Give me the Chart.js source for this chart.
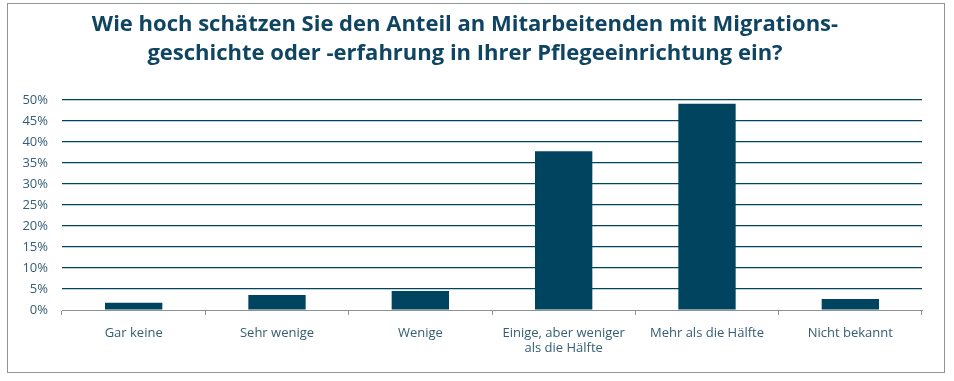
<!DOCTYPE html>
<html>
<head>
<meta charset="utf-8">
<script src="https://cdn.jsdelivr.net/npm/chart.js@4"></script>
<style>
  html, body { margin: 0; padding: 0; background: #fff; }
  #frame {
    position: absolute; left: 7px; top: 3px;
    width: 936px; height: 368px;
    border: 1px solid #8f959a;
  }
  canvas { display: block; }
</style>
</head>
<body>
<div id="frame"><canvas id="chart" width="936" height="368"></canvas></div>
<script>
const titleLines = [
    "Wie hoch schätzen Sie den Anteil an Mitarbeitenden mit Migrations-",
    "geschichte oder -erfahrung in Ihrer Pflegeeinrichtung ein?"
];
const categories = [
    "Gar keine",
    "Sehr wenige",
    "Wenige",
    ["Einige, aber weniger", "als die Hälfte"],
    "Mehr als die Hälfte",
    "Nicht bekannt"
];
const anteile = [1.7, 3.6, 4.5, 37.8, 49.1, 2.6];
const yTicks = [0, 5, 10, 15, 20, 25, 30, 35, 40, 45, 50];

const dunkel = "#01445f";
const text = "#355d74";
const grau = "#8c9398";

const ctx = document.getElementById("chart").getContext("2d");
new Chart(ctx, {
    type: "bar",
    data: {
        labels: categories,
        datasets: [{
            data: anteile,
            backgroundColor: dunkel,
            barPercentage: 0.4,
            categoryPercentage: 1
        }]
    },
    options: {
        responsive: false,
        animation: false,
        layout: { padding: { left: 0, right: 22, top: 0, bottom: 0 } },
        plugins: {
            legend: { display: false },
            tooltip: { enabled: false },
            title: {
                display: true,
                text: titleLines,
                color: "#0f4562",
                font: { family: "Open Sans", size: 22, weight: "bold", lineHeight: 1.32 },
                padding: { top: 6, bottom: 32 }
            }
        },
        scales: {
            x: {
                grid: {
                    offset: true,
                    drawOnChartArea: false,
                    drawTicks: true,
                    tickLength: 5,
                    color: grau
                },
                border: { color: grau, width: 1 },
                ticks: {
                    color: text,
                    font: { family: "Open Sans", size: 13 },
                    padding: 10,
                    maxRotation: 0
                },
                afterFit: s => { s.height = 62; }
            },
            y: {
                min: 0,
                max: 50,
                afterBuildTicks: s => { s.ticks = yTicks.map(v => ({ value: v })); },
                grid: {
                    color: c => c.tick && c.tick.value === 0 ? "rgba(0,0,0,0)" : dunkel,
                    lineWidth: 1.2,
                    drawTicks: false
                },
                border: { display: false },
                ticks: {
                    color: text,
                    font: { family: "Open Sans", size: 13 },
                    padding: 14,
                    callback: v => v + "%"
                },
                afterFit: s => { s.width = 54; }
            }
        }
    }
});
</script>
</body>
</html>
